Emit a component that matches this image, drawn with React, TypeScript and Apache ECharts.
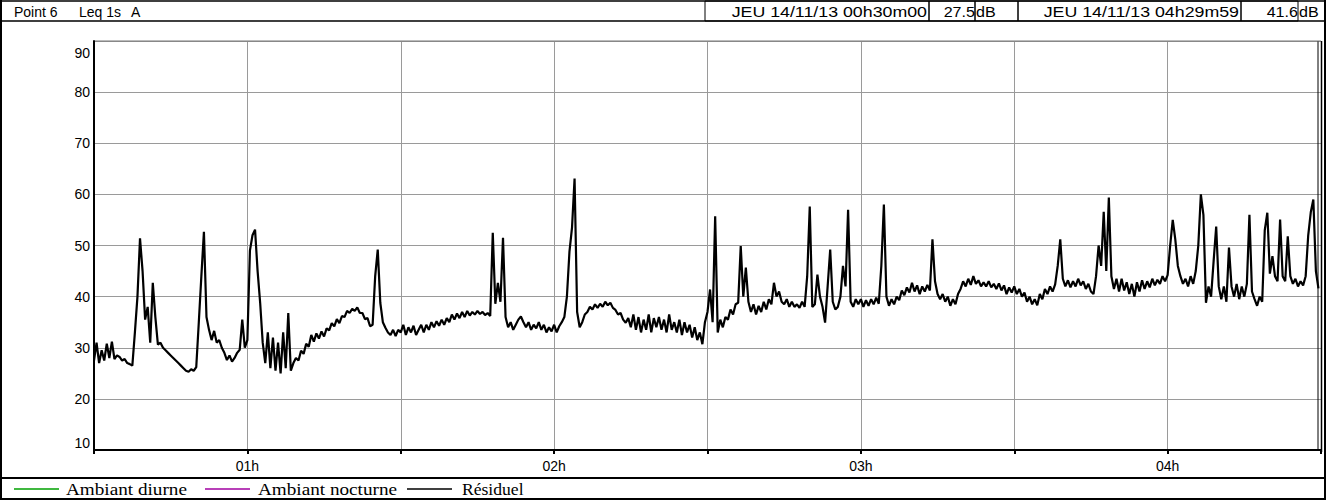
import React, { useEffect, useRef } from "react";
import * as echarts from "echarts";

// Leq 1s A, one value per 30 s (dB)
const leq0030 = [
  27.5, 31, 27, 29.5, 27.5, 30.8, 28, 31.2, 27.8, 28.5,
  28.2, 27.5, 27.8, 27, 26.8, 26.5, 33, 40, 51.4, 45,
  35.5, 38, 31, 42.7, 36, 30.6, 31, 30, 29.5, 29,
  28.5, 28, 27.5, 27, 26.5, 26, 25.5, 25.3, 25.8, 25.5,
  26.2, 35, 44, 52.7, 36, 33.5, 31.5, 33.3, 31, 31.5,
  30, 29, 27.6, 28.5, 27.3, 28, 29, 29.6, 35.5, 30,
  31.5, 49, 52, 53.1, 45, 38.8, 31, 27, 33, 26,
  32, 25.5, 31, 25, 33, 26, 36.8, 25.5, 27, 28,
  27.5, 29.4, 28.8, 30.8, 30.2, 32.5, 31.2, 32.8, 31.8, 33.2,
  32.2, 33.8, 33.4, 34.8, 34.2, 35.6, 34.8, 36.2, 36, 37.2,
  36.8, 37.6, 37.2, 37.9, 36.8, 36.8, 35.6, 35.8, 34.2, 34.5,
  44, 49.2, 38.8, 35, 33.9, 33, 32.5, 33.5, 32.3, 33.5,
];
const leq0130 = [
  33, 34.5, 32.5, 34, 33, 34.3, 32.5, 33.5, 34.5, 33,
  34.5, 33.5, 35, 34, 35.2, 34.3, 35.5, 34.5, 35.8, 35,
  36.5, 35.5, 36.7, 35.8, 37, 36, 37.2, 36.3, 37, 36.5,
  37.2, 36.6, 37, 36.4, 36.8, 36.2, 52.5, 38.6, 42.7, 39,
  51.5, 36, 34, 35, 33.5, 34.5, 35.5, 36.1, 35, 34,
  35, 33.5, 34.5, 33.8, 35, 33.5, 34.5, 33, 34, 33.2,
  34.5, 33, 34.2, 35, 36, 40, 48.8, 53.5, 63.1, 37,
  34, 35, 36.5, 37, 38, 37.5, 38.5, 37.8, 38.6, 38,
  39, 38.3, 38.8, 37.8, 37.4, 36.5, 36.8, 35.5, 34.9, 35.8,
  34, 36.5, 33.5, 36, 33, 35.5, 33.5, 36.5, 33, 35.8,
  34, 36, 33.5, 35.5, 33, 36.5, 33.5, 35, 33, 35.5,
  32.5, 35, 33, 34.5, 32, 34, 31.5, 33, 30.7, 35,
];
const leq0230 = [
  37, 41.4, 35, 55.7, 33, 35.5, 34, 36, 35.5, 37.5,
  36.5, 38.5, 38.8, 49.9, 40, 45.7, 39, 37, 38.5, 36.5,
  38.2, 37, 39, 37.5, 39.5, 38.5, 42.7, 40, 41, 39,
  38.5, 39.5, 38, 39, 38, 38.5, 37.8, 39, 38, 44,
  57.6, 38, 38.5, 44.3, 40, 38, 34.9, 42, 49.2, 39,
  37.5, 38, 40, 46, 42, 57, 39, 38, 39.5, 38.5,
  39.5, 38, 39.3, 38.2, 39.5, 38.5, 39.8, 38.6, 46, 58,
  40, 38.2, 39.5, 38.5, 40, 39.3, 41.2, 40.3, 41.8, 40.8,
  42.7, 41, 42.2, 40.5, 42, 41, 42.3, 41.2, 51.2, 43,
  40.5, 39.5, 40.5, 39, 40, 38.2, 39.5, 38.5, 40.5, 41.5,
  43, 42, 43.5, 42.3, 44, 42.5, 43.2, 42, 42.8, 42,
  43, 41.8, 42.5, 41.5, 42.6, 41.2, 42.2, 40.5, 41.8, 40.8,
];
const leq0330 = [
  42, 40.5, 41.5, 40, 40.8, 39, 40, 38.5, 39.5, 38.3,
  40.5, 39.5, 41.5, 40.5, 42, 41, 42.4, 46, 51.2, 43.5,
  42, 43.2, 41.8, 43, 42, 43.5, 42.2, 43, 41.5, 42.5,
  41, 40.5, 44, 50, 46, 56.6, 45, 59.4, 44, 41.5,
  43.5, 41, 43.5, 41.2, 42.8, 40.5, 42.5, 40, 42.8, 41,
  43.2, 41.5, 43, 41.8, 43.5, 42.2, 43.3, 42.5, 44, 43,
  44.2, 50, 55, 51.2, 46, 44, 42.5, 43.5, 42, 44,
  42.5, 45, 50, 60, 56, 38.8, 42, 40, 47, 53.7,
  42, 39.5, 42, 39, 49.6, 42, 40, 42.5, 39.5, 42,
  40, 42.5, 56, 41, 39.5, 38.2, 40, 39, 53, 56.4,
  44.5, 47.9, 44, 43, 55.1, 44, 43, 51.8, 44, 42.5,
  43.5, 42, 43, 42.2, 44, 52, 56.5, 59, 45, 41.6,
];

const STEP_MIN = 0.5; // sampling step of the arrays, minutes
const START_MIN = 30; // axis starts at 00h30
const SPAN_MIN = 240;
const Y_MIN = 10;
const Y_MAX = 90;

const pointLabel = "Point 6";
const indexLabel = "Leq 1s";
const weighting = "A";
const startStamp = "JEU 14/11/13 00h30m00";
const startValue = "27.5";
const endStamp = "JEU 14/11/13 04h29m59";
const endValue = "41.6";
const unit = "dB";

const legendNames = ["Ambiant diurne", "Ambiant nocturne", "Résiduel"];
const legendColors = ["#00a000", "#a000a0", "#000000"];

const SANS = "'Liberation Sans', Arial, sans-serif";
const SERIF = "'Liberation Serif', 'Times New Roman', serif";

export default function App() {
  const ref = useRef<HTMLDivElement>(null);

  useEffect(() => {
    if (!ref.current) return;
    const chart = echarts.init(ref.current, undefined, { renderer: "svg" });
    const levels = [...leq0030, ...leq0130, ...leq0230, ...leq0330];
    const data = levels.map((v, i) => [i * STEP_MIN, v]);

    const hdrY = 1;
    const hdrH = 20;
    const hdrMid = hdrY + hdrH / 2 + 1;
    const txt = (x: number, y: number, text: string, align: string, font = SANS, size = 14, sx = 1) => ({
      type: "text",
      x,
      y,
      scaleX: sx,
      style: { text, fill: "#000", font: `${size}px ${font}`, align, verticalAlign: "middle" },
      z: 10,
    });
    const box = (x: number, y: number, w: number, h: number, lw = 1) => ({
      type: "rect",
      shape: { x, y, width: w, height: h },
      style: { fill: "none", stroke: "#000", lineWidth: lw },
      z: 9,
    });
    const line = (x1: number, y1: number, x2: number, y2: number, lw = 1, color = "#000") => ({
      type: "line",
      shape: { x1, y1, x2, y2 },
      style: { stroke: color, lineWidth: lw },
      z: 9,
    });

    const legendLineX = [14, 205, 407];
    const legendTextX = [66, 258, 462];
    const legendScale = [1.2, 1.2, 1.1];
    const legendY = 489;
    const legendGraphics: any[] = [];
    legendNames.forEach((n, k) => {
      legendGraphics.push(line(legendLineX[k], legendY, legendLineX[k] + 45, legendY, 1.3, legendColors[k]));
      legendGraphics.push(txt(legendTextX[k], legendY + 1, n, "left", SERIF, 16, legendScale[k]));
    });

    const HS = 1.27; // header stamps are drawn wide

    chart.setOption({
      animation: false,
      backgroundColor: "#fff",
      grid: { left: 94, right: 10, top: 41, bottom: 50, show: false },
      xAxis: {
        type: "value",
        min: 0,
        max: SPAN_MIN,
        interval: 30,
        axisLine: { show: true, lineStyle: { color: "#000", width: 2 } },
        axisTick: { show: true, length: 4, lineStyle: { color: "#000", width: 2 } },
        splitLine: { show: true, lineStyle: { color: "#9a9a9a", width: 1 } },
        axisLabel: {
          color: "#000",
          fontSize: 14,
          fontFamily: SANS,
          margin: 9,
          formatter: (v: number) => {
            const abs = START_MIN + v;
            if (abs % 60 !== 0) return "";
            const h = abs / 60;
            return (h < 10 ? "0" : "") + h + "h";
          },
        },
      },
      yAxis: {
        type: "value",
        min: Y_MIN,
        max: Y_MAX,
        interval: 10,
        axisLine: { show: true, lineStyle: { color: "#000", width: 2 } },
        axisTick: { show: false },
        splitLine: { show: true, lineStyle: { color: "#9a9a9a", width: 1 } },
        axisLabel: {
          color: "#000",
          fontSize: 14,
          fontFamily: SANS,
          margin: 4,
          verticalAlignMinLabel: "bottom",
          verticalAlignMaxLabel: "top",
          formatter: (v: number) => (v === Y_MAX ? `{top|${v}}` : `${v}`),
          rich: { top: { fontSize: 14, fontFamily: SANS, color: "#000", padding: [5, 0, 0, 0] } },
        },
      },
      series: [
        {
          name: legendNames[2],
          type: "line",
          data,
          showSymbol: false,
          symbol: "none",
          lineStyle: { color: "#000", width: 2.2, join: "bevel" },
          z: 5,
        },
      ],
      graphic: [
        // outer frame
        line(1, 0, 1, 500, 2),
        line(1325, 0, 1325, 500, 2),
        line(0, 499, 1326, 499, 2),
        // header
        { type: "rect", shape: { x: 1, y: hdrY, width: 1324, height: hdrH }, style: { fill: "#fff", stroke: "#000", lineWidth: 1.5 }, z: 8 },
        txt(14, hdrMid, pointLabel, "left"),
        txt(79, hdrMid, indexLabel, "left"),
        txt(131, hdrMid, weighting, "left"),
        box(705, hdrY, 224, hdrH),
        txt(927, hdrMid, startStamp, "right", SANS, 14, HS),
        box(929, hdrY, 46, hdrH),
        txt(975, hdrMid, startValue, "right", SANS, 14, 1.15),
        txt(976, hdrMid, unit, "left", SANS, 14, 1.15),
        box(975, hdrY, 43, hdrH),
        box(1018, hdrY, 223, hdrH),
        txt(1239, hdrMid, endStamp, "right", SANS, 14, HS),
        box(1241, hdrY, 57, hdrH),
        txt(1298, hdrMid, endValue, "right", SANS, 14, 1.15),
        txt(1299, hdrMid, unit, "left", SANS, 14, 1.15),
        // plot frame extras
        line(1318, 41, 1318, 450, 1),
        line(1321.5, 41, 1321.5, 452, 1.5),
        line(95, 41, 1321, 41, 1, "#777"),
        // legend separator
        line(1, 478, 1325, 478, 2),
        ...legendGraphics,
      ],
    });
    return () => chart.dispose();
  }, []);

  return (
    <div
      ref={ref}
      style={{ position: "fixed", left: 0, top: 0, width: 1331, height: 500, background: "#fff" }}
    />
  );
}
